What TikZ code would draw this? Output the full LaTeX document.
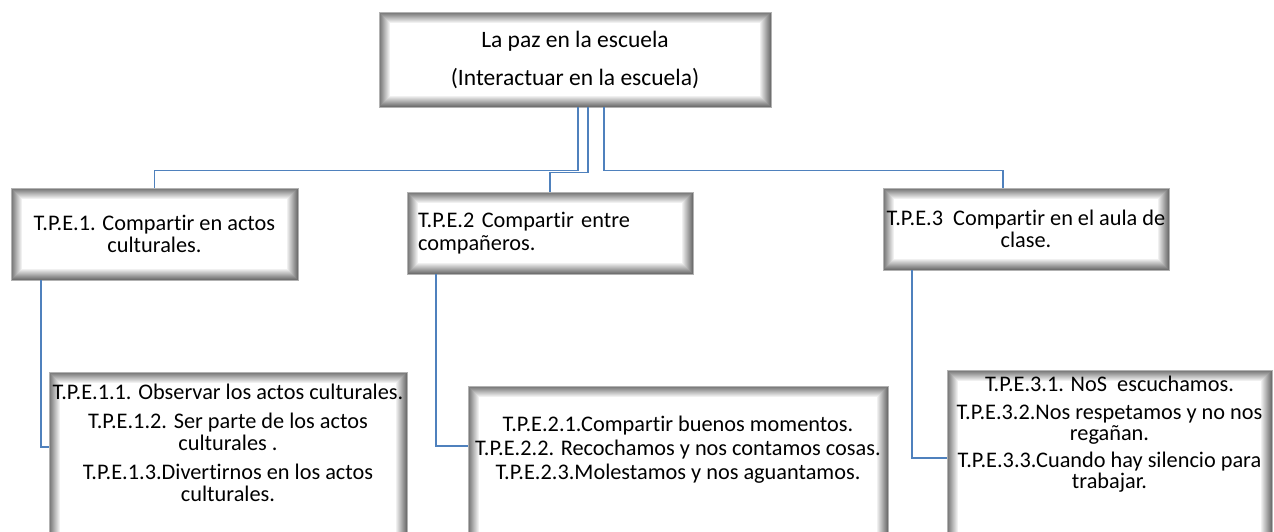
\documentclass[tikz,border=0pt]{standalone}
\usepackage{fontspec}
\setmainfont{Carlito}[Ligatures=NoCommon]
\usepackage{tikz}
\usetikzlibrary{calc}

\definecolor{linkblue}{HTML}{4F81BD}

\tikzset{
  glowbox/.style={draw=black!30, fill=white, line width=0.8pt, inner sep=0pt,
    path picture={
      \foreach \k [evaluate=\k as \g using int(56-5*\k)] in {0,...,10} {
        \draw[black!\g, line width=1.1pt]
          ([xshift=\k pt+0.5pt, yshift=\k pt+0.5pt]path picture bounding box.south west)
          rectangle ([xshift=-\k pt-0.5pt, yshift=-\k pt-0.5pt]path picture bounding box.north east);
      }
    }},
  link/.style={draw=linkblue, line width=1.8pt},
  tpe/.style={font=\fontsize{22.3}{22.5}\selectfont, align=center, inner sep=0pt},
}

\begin{document}
\begin{tikzpicture}[x=1pt,y=-1pt]
    \clip (0,0) rectangle (1274,531);

    \node[glowbox, tpe, font=\fontsize{23.5}{25}\selectfont, minimum width=392, minimum height=95] (top) at (575,59.5)
        {La paz en la escuela\\[13pt](Interactuar en la escuela)};

    \node[glowbox, tpe, minimum width=287, minimum height=92] (p1) at (154.5,234)
        {T.P.E.1. Compartir en actos\\culturales.};
    \node[glowbox, tpe, align=left, text width=264, minimum width=286, minimum height=82] (p2) at (550,233)
        {T.P.E.2 Compartir entre\\compañeros.};
    \node[glowbox, tpe, minimum width=286, minimum height=82] (p3) at (1026,229)
        {T.P.E.3\ \ Compartir en el aula de\\clase.};

    \node[glowbox, minimum width=358, minimum height=200, anchor=north] (s1) at (228,372) {};
    \node[glowbox, minimum width=420, minimum height=200, anchor=north] (s2) at (678,386) {};
    \node[glowbox, minimum width=325, minimum height=200, anchor=north] (s3) at (1109.5,370) {};

    \node[tpe, anchor=north] (s1text) at ([yshift=-12pt]s1.north)
        {T.P.E.1.1. Observar los actos culturales.\\[6pt]
         T.P.E.1.2. Ser parte de los actos\\culturales .\\[6pt]
         T.P.E.1.3.Divertirnos en los actos\\culturales.};
    \node[tpe, anchor=north] (s2text) at ([yshift=-30pt]s2.north)
        {T.P.E.2.1.Compartir buenos momentos.\\[1.5pt]
         T.P.E.2.2. Recochamos y nos contamos cosas.\\[1.5pt]
         T.P.E.2.3.Molestamos y nos aguantamos.};
    \node[tpe, anchor=north, font=\fontsize{22.3}{21}\selectfont] (s3text) at ([yshift=-6pt]s3.north)
        {T.P.E.3.1. NoS\ \ escuchamos.\\[6.5pt]
         T.P.E.3.2.Nos respetamos y no nos\\regañan.\\[6.5pt]
         T.P.E.3.3.Cuando hay silencio para\\trabajar.};

    \draw[link] ([xshift=3pt]top.south) -- ++(0,63) -| (p1.north);
    \draw[link] ([xshift=13pt]top.south) -- ++(0,65) -| (p2.north);
    \draw[link] ([xshift=29pt]top.south) -- ++(0,63) -| ([xshift=-23pt]p3.north);

    \draw[link] ([xshift=30pt]p1.south west) |- ([yshift=-75pt]s1.north west);
    \draw[link] ([xshift=29pt]p2.south west) |- ([yshift=-60pt]s2.north west);
    \draw[link] ([xshift=29pt]p3.south west) |- ([yshift=-88pt]s3.north west);
\end{tikzpicture}
\end{document}
